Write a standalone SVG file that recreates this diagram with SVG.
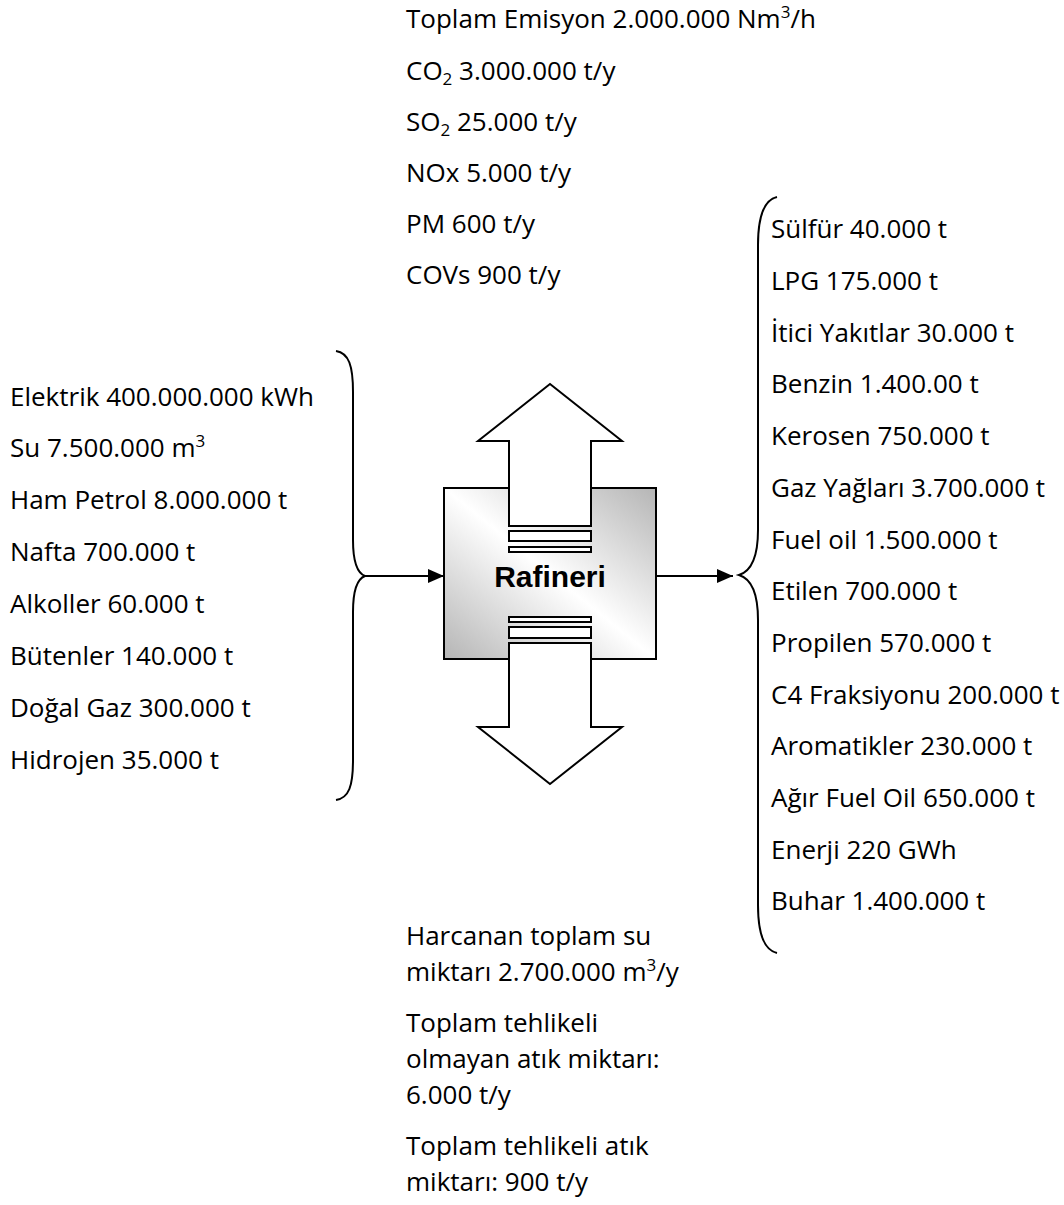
<svg xmlns="http://www.w3.org/2000/svg" width="1064" height="1205" viewBox="0 0 1064 1205">
  <style>
    .t { font-family: "Open Sans", "Noto Sans", "Liberation Sans", sans-serif; font-size: 26px; fill: #000; }
    .sm { font-size: 17px; }
    .title { font-family: "Liberation Sans", Arial, sans-serif; font-size: 30px; font-weight: bold; fill: #000; }
    .ln { fill: none; stroke: #000; stroke-width: 2; }
    .shape { fill: #fff; stroke: #000; stroke-width: 2; }
  </style>
  <defs>
    <linearGradient id="boxFill" x1="1" y1="0" x2="0" y2="1">
      <stop offset="0" stop-color="#b5b5b5"/>
      <stop offset="0.5" stop-color="#ffffff"/>
      <stop offset="1" stop-color="#b5b5b5"/>
    </linearGradient>
    <marker id="head" markerWidth="16" markerHeight="14" refX="16" refY="7" orient="auto" markerUnits="userSpaceOnUse">
      <path d="M0,0 L16,7 L0,14 Z" fill="#000"/>
    </marker>
  </defs>

  <!-- emissions (top) -->
  <g id="emissions">
    <text class="t" x="406" y="28"><tspan>Toplam Emisyon 2.000.000 Nm</tspan><tspan class="sm" dy="-10">3</tspan><tspan dy="10">/h</tspan></text>
    <text class="t" x="406" y="80"><tspan>CO</tspan><tspan class="sm" dy="5">2</tspan><tspan dy="-5"> 3.000.000 t/y</tspan></text>
    <text class="t" x="406" y="131"><tspan>SO</tspan><tspan class="sm" dy="5">2</tspan><tspan dy="-5"> 25.000 t/y</tspan></text>
    <text class="t" x="406" y="182">NOx 5.000 t/y</text>
    <text class="t" x="406" y="233">PM 600 t/y</text>
    <text class="t" x="406" y="284">COVs 900 t/y</text>
  </g>

  <!-- inputs (left) -->
  <g id="inputs">
    <text class="t" x="10" y="405.5">Elektrik 400.000.000 kWh</text>
    <text class="t" x="10" y="457.4"><tspan>Su 7.500.000 m</tspan><tspan class="sm" dy="-10">3</tspan></text>
    <text class="t" x="10" y="509.3">Ham Petrol 8.000.000 t</text>
    <text class="t" x="10" y="561.2">Nafta 700.000 t</text>
    <text class="t" x="10" y="613.1">Alkoller 60.000 t</text>
    <text class="t" x="10" y="665">Bütenler 140.000 t</text>
    <text class="t" x="10" y="716.9">Doğal Gaz 300.000 t</text>
    <text class="t" x="10" y="768.8">Hidrojen 35.000 t</text>
  </g>

  <!-- products (right) -->
  <g id="products">
    <text class="t" x="771" y="238.3">Sülfür 40.000 t</text>
    <text class="t" x="771" y="290">LPG 175.000 t</text>
    <text class="t" x="771" y="341.7">İtici Yakıtlar 30.000 t</text>
    <text class="t" x="771" y="393.4">Benzin 1.400.00 t</text>
    <text class="t" x="771" y="445.1">Kerosen 750.000 t</text>
    <text class="t" x="771" y="496.8">Gaz Yağları 3.700.000 t</text>
    <text class="t" x="771" y="548.5">Fuel oil 1.500.000 t</text>
    <text class="t" x="771" y="600.2">Etilen 700.000 t</text>
    <text class="t" x="771" y="651.9">Propilen 570.000 t</text>
    <text class="t" x="771" y="703.6">C4 Fraksiyonu 200.000 t</text>
    <text class="t" x="771" y="755.3">Aromatikler 230.000 t</text>
    <text class="t" x="771" y="807">Ağır Fuel Oil 650.000 t</text>
    <text class="t" x="771" y="858.7">Enerji 220 GWh</text>
    <text class="t" x="771" y="910.4">Buhar 1.400.000 t</text>
  </g>

  <!-- water and waste (bottom) -->
  <g id="wastes">
    <text class="t" x="406" y="945">Harcanan toplam su</text>
    <text class="t" x="406" y="981"><tspan>miktarı 2.700.000 m</tspan><tspan class="sm" dy="-10">3</tspan><tspan dy="10">/y</tspan></text>
    <text class="t" x="406" y="1032">Toplam tehlikeli</text>
    <text class="t" x="406" y="1068">olmayan atık miktarı:</text>
    <text class="t" x="406" y="1104">6.000 t/y</text>
    <text class="t" x="406" y="1155">Toplam tehlikeli atık</text>
    <text class="t" x="406" y="1191">miktarı: 900 t/y</text>
  </g>

  <!-- refinery block -->
  <g id="refinery">
    <rect x="444" y="488" width="212" height="171" fill="url(#boxFill)" stroke="#000" stroke-width="2"/>
    <polygon class="shape" points="509,526 509,441 478,441 550,384 622,441 591,441 591,526"/>
    <rect class="shape" x="509" y="531" width="82" height="10"/>
    <rect class="shape" x="509" y="547" width="82" height="5"/>
    <rect class="shape" x="509" y="617" width="82" height="5"/>
    <rect class="shape" x="509" y="627" width="82" height="11"/>
    <polygon class="shape" points="509,643 591,643 591,727 622,727 550,784 478,727 509,727"/>
    <text class="title" x="550" y="587" text-anchor="middle">Rafineri</text>
  </g>

  <!-- braces and flow arrows -->
  <g id="connectors">
    <path class="ln" d="M336,351 C349,353 353,366 353,392 L353,540 C353,562 357,573 365,576 C357,579 353,590 353,612 L353,760 C353,786 349,798 336,800"/>
    <path class="ln" d="M777,197 C764,200 758,215 758,245 L758,530 C758,555 752,571 739,575 C752,579 758,595 758,620 L758,905 C758,935 764,950 777,953"/>
    <line class="ln" x1="365" y1="576" x2="444" y2="576" marker-end="url(#head)"/>
    <line class="ln" x1="656" y1="576" x2="733" y2="576" marker-end="url(#head)"/>
  </g>
</svg>
